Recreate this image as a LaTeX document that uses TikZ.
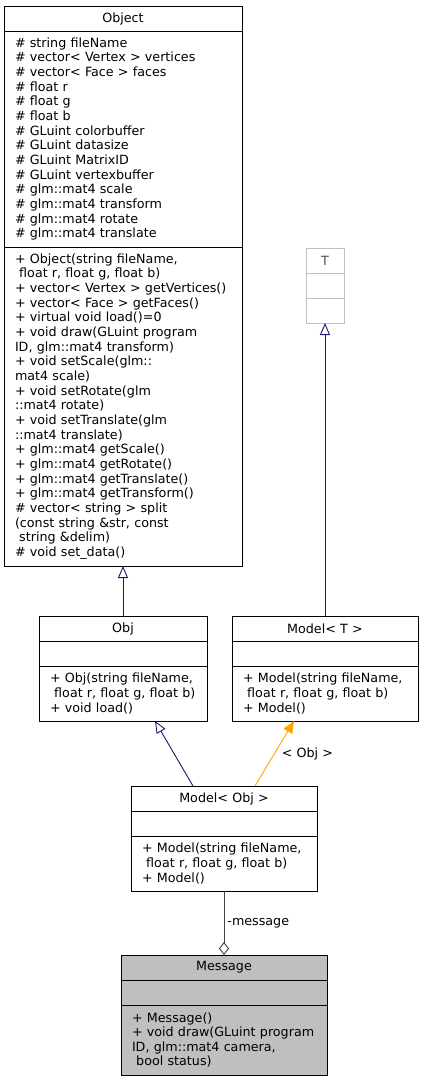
\documentclass[tikz,border=0pt]{standalone}
\usepackage{fontspec}
\setmainfont{DejaVu Sans}
\usepackage{tikz}
\usetikzlibrary{arrows.meta,positioning}
\definecolor{edgeblue}{RGB}{25,25,112}
\definecolor{edgeorange}{RGB}{255,165,0}
\definecolor{edgegray}{RGB}{64,64,64}
\definecolor{focusgray}{RGB}{191,191,191}
\definecolor{ghostgray}{RGB}{191,191,191}
\newcommand\umlfont{\fontsize{12.7}{14.65}\selectfont}
\tikzset{
  uml/part/.style={draw, line width=0.9pt, inner xsep=11pt, inner ysep=0pt, outer sep=0pt,
    text width=#1, align=left, font=\umlfont},
  uml/head/.style={uml/part=#1, align=center, minimum height=25pt},
  uml/blank/.style={uml/part=#1, minimum height=25pt},
  uml/ghost/.style={draw=ghostgray, text=black!70},
  uml/focus/.style={fill=focusgray},
  uml/edge/.style={line width=0.9pt},
  uml/label/.style={font=\umlfont, inner sep=2pt}
}

\begin{document}
\begin{tikzpicture}[
  x=1pt, y=-1pt,
  node distance=0pt,
  uml/inherit/.style={uml/edge, draw=edgeblue, -{Triangle[open, length=12pt, width=10pt]}},
  uml/bind/.style={uml/edge, draw=edgeorange, -{Triangle[length=12pt, width=10pt, fill=edgeorange]}},
  uml/member/.style={uml/edge, draw=edgegray, -{Diamond[open, length=13pt, width=10pt]}}
]
\useasboundingbox (0,0) rectangle (424,1081);

\node[uml/head=216pt, anchor=north] (object) at (123,6) {Object};
\node[uml/part=216pt, minimum height=216pt, below=of object] (objectattr) {%
\# string fileName\\
\# vector< Vertex > vertices\\
\# vector< Face > faces\\
\# float r\\
\# float g\\
\# float b\\
\# GLuint colorbuffer\\
\# GLuint datasize\\
\# GLuint MatrixID\\
\# GLuint vertexbuffer\\
\# glm::mat4 scale\\
\# glm::mat4 transform\\
\# glm::mat4 rotate\\
\# glm::mat4 translate};
\node[uml/part=216pt, minimum height=319pt, below=of objectattr] (objectops) {%
+ Object(string fileName,\\
\ float r, float g, float b)\\
+ vector< Vertex > getVertices()\\
+ vector< Face > getFaces()\\
+ virtual void load()=0\\
+ void draw(GLuint program\\
ID, glm::mat4 transform)\\
+ void setScale(glm::\\
mat4 scale)\\
+ void setRotate(glm\\
::mat4 rotate)\\
+ void setTranslate(glm\\
::mat4 translate)\\
+ glm::mat4 getScale()\\
+ glm::mat4 getRotate()\\
+ glm::mat4 getTranslate()\\
+ glm::mat4 getTransform()\\
\# vector< string > split\\
(const string \&str, const\\
\ string \&delim)\\
\# void set\_data()};

\node[uml/head=16pt, uml/ghost, anchor=north] (tparam) at (325,248) {T};
\node[uml/blank=16pt, uml/ghost, below=of tparam] (tparamattr) {};
\node[uml/blank=16pt, uml/ghost, below=of tparamattr] (tparamops) {};

\node[uml/head=146pt, anchor=north] (obj) at (123,616) {Obj};
\node[uml/blank=146pt, below=of obj] (objattr) {};
\node[uml/part=146pt, minimum height=55pt, below=of objattr] (objops) {%
+ Obj(string fileName,\\
\ float r, float g, float b)\\
+ void load()};

\node[uml/head=164pt, anchor=north] (modelt) at (325,616) {Model< T >};
\node[uml/blank=164pt, below=of modelt] (modeltattr) {};
\node[uml/part=164pt, minimum height=55pt, below=of modeltattr] (modeltops) {%
+ Model(string fileName,\\
\ float r, float g, float b)\\
+ Model()};

\node[uml/head=164pt, anchor=north] (modelobj) at (224,786) {Model< Obj >};
\node[uml/blank=164pt, below=of modelobj] (modelobjattr) {};
\node[uml/part=164pt, minimum height=55pt, below=of modelobjattr] (modelobjops) {%
+ Model(string fileName,\\
\ float r, float g, float b)\\
+ Model()};

\node[uml/head=184pt, uml/focus, anchor=north] (message) at (224,955) {Message};
\node[uml/blank=184pt, uml/focus, below=of message] (messageattr) {};
\node[uml/part=184pt, uml/focus, minimum height=70pt, below=of messageattr] (messageops) {%
+ Message()\\
+ void draw(GLuint program\\
ID, glm::mat4 camera,\\
\ bool status)};

\draw[uml/inherit] (obj.north) -- (objectops.south);
\draw[uml/inherit] (modelt.north) -- (tparamops.south);
\draw[uml/inherit] ([xshift=62pt]modelobj.north west) -- ([xshift=116pt]objops.south west);
\draw[uml/bind] ([xshift=124pt]modelobj.north west) -- node[uml/label, right=5pt] {< Obj >} ([xshift=62pt]modeltops.south west);
\draw[uml/member] (modelobjops.south) -- node[uml/label, right=1pt] {-message} (message.north);
\end{tikzpicture}
\end{document}
